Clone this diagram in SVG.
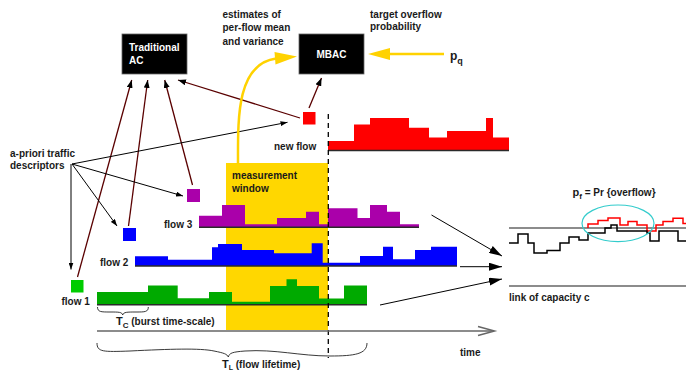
<svg xmlns="http://www.w3.org/2000/svg" width="686" height="371" viewBox="0 0 686 371">
<style>
.t{font-family:"Liberation Sans",Arial,Helvetica,sans-serif;font-weight:bold;font-size:10px;fill:#1a1a1a}
.w{fill:#fff}
.box{fill:#000;stroke:#666;stroke-width:0.8}
.dr{stroke:#5a0000;stroke-width:1.3;fill:none}
.bk{stroke:#000;stroke-width:1;fill:none}
.yl{stroke:#FFD200;stroke-width:2.5;fill:none}
.base{stroke:#2a2a2a;stroke-width:1.5}
.gray{stroke:#666;stroke-width:1.5;fill:none}
</style>
<defs>
<marker id="ah" viewBox="0 0 8 6" refX="8" refY="3" markerWidth="8" markerHeight="6" markerUnits="userSpaceOnUse" orient="auto"><path d="M0,0 L8,3 L0,6 Z" fill="#000"/></marker>
<marker id="sm" viewBox="0 0 7 5" refX="7" refY="2.5" markerWidth="7" markerHeight="5" markerUnits="userSpaceOnUse" orient="auto"><path d="M0,0 L7,2.5 L0,5 Z" fill="#000"/></marker>
<marker id="lg" viewBox="0 0 13 8" refX="13" refY="4" markerWidth="13" markerHeight="8" markerUnits="userSpaceOnUse" orient="auto"><path d="M0,0 L13,4 L0,8 Z" fill="#000"/></marker>
</defs>

<!-- measurement window -->
<g id="window">
<rect x="226" y="163" width="102" height="167" fill="#FFD700"/>
<text class="t" x="232" y="179">measurement</text>
<text class="t" x="232" y="192">window</text>
</g>

<!-- boxes -->
<g id="tradac">
<rect class="box" x="122" y="34" width="65" height="40"/>
<text class="t w" x="129" y="51">Traditional</text>
<text class="t w" x="129" y="64">AC</text>
</g>
<g id="mbac">
<rect class="box" x="299" y="34" width="65" height="40"/>
<text class="t w" x="331.5" y="58" text-anchor="middle">MBAC</text>
</g>

<g id="labels">
<text class="t" x="222.5" y="18">estimates of</text>
<text class="t" x="222.5" y="31">per-flow mean</text>
<text class="t" x="222.5" y="45">and variance</text>
<text class="t" x="370" y="18">target overflow</text>
<text class="t" x="370" y="30">probability</text>
<text class="t" x="450" y="60" style="font-size:12px">p<tspan dy="4" style="font-size:9px">q</tspan></text>
<text class="t" x="10" y="157">a-priori traffic</text>
<text class="t" x="10" y="169">descriptors</text>
<text class="t" x="274" y="150">new flow</text>
<text class="t" x="164" y="228">flow 3</text>
<text class="t" x="100" y="266">flow 2</text>
<text class="t" x="61.5" y="304.5">flow 1</text>
<text class="t" x="116" y="325" style="font-size:11px">T<tspan dy="3" style="font-size:8px">C</tspan><tspan dy="-3" style="font-size:10px"> (burst time-scale)</tspan></text>
<text class="t" x="222" y="367.5" style="font-size:11px">T<tspan dy="2" style="font-size:7px">L</tspan><tspan dy="-2" style="font-size:10px"> (flow lifetime)</tspan></text>
<text class="t" x="460" y="356">time</text>
<text class="t" x="509" y="301">link of capacity c</text>
<text class="t" x="572.5" y="196" style="font-size:11px">p<tspan dy="3" style="font-size:8px">f</tspan><tspan dy="-3" style="font-size:10px"> = Pr {overflow}</tspan></text>
</g>

<!-- flows -->
<g id="flow-new">
<path d="M328,150.5 V141 H354 V124.5 H370 V118 H409 V127.7 H429 V137.5 H447 V131 H486 V118 H493 V137.5 H509 V150.5 Z" fill="#FF0000"/>
<line class="base" x1="328" y1="150.5" x2="509" y2="150.5"/>
<rect x="303" y="112" width="12.5" height="12.5" fill="#FF0000"/>
</g>
<g id="flow3">
<path d="M199,227 V215.7 H222 V205 H245 V224.3 H277 V218 H306 V211.7 H319 V224.3 H328 V208.3 H357.5 V218 H370 V205 H387 V211.7 H400 V224.3 H419 V227 Z" fill="#AA00AA"/>
<line class="base" x1="199" y1="227.3" x2="419" y2="227.3"/>
<rect x="187" y="189" width="13" height="13" fill="#AA00AA"/>
</g>
<g id="flow2">
<path d="M135,266 V256.3 H168 V259.7 H212 V247.3 H218 V244 H242 V250 H274 V253.3 H311.7 V243.3 H322.7 V262.7 H360 V256 H383 V246.7 H393 V259.3 H415 V250 H431 V246.7 H457 V266 Z" fill="#0000FF"/>
<line class="base" x1="135" y1="266" x2="457" y2="266"/>
<rect x="123" y="228" width="13" height="13" fill="#0000FF"/>
</g>
<g id="flow1">
<path d="M97,304.7 V292 H148 V285.5 H177.7 V298.3 H209 V292 H232 V301.7 H270 V286 H286.5 V279.2 H297 V286 H319 V298.5 H344 V285.5 H367 V304.7 Z" fill="#00AA00"/>
<line class="base" x1="97" y1="304.7" x2="367" y2="304.7"/>
<rect x="71" y="280" width="12.5" height="12.5" fill="#00CC00"/>
</g>

<!-- dashed admission line -->
<line x1="328.3" y1="114" x2="328.3" y2="358" stroke="#000" stroke-width="1.3" stroke-dasharray="5,4"/>

<!-- time axis and braces -->
<g id="axis">
<line class="gray" x1="97" y1="331" x2="494" y2="331"/>
<path class="gray" d="M478,326.5 L494.5,331 L478,335.5"/>
<path d="M97.5,307 C97.5,312 101,312 110,312 C119,312 122,312 122.7,315 C123.5,312 127,312 136,312 C145,312 148.3,312 148.3,307" fill="none" stroke="#222" stroke-width="0.9"/>
<path d="M97,343 C97,352 103,352 130,351 C170,349 200,348 214,351 C224,353 227,354 228.3,357 C229.5,353 232,352 245,351 C275,349 300,356 330,356 C355,356 367,354 367,343" fill="none" stroke="#222" stroke-width="0.9"/>
</g>

<!-- link panel -->
<g id="link">
<line class="gray" x1="509" y1="228" x2="686" y2="228"/>
<line class="gray" x1="509" y1="286" x2="686" y2="286"/>
<path d="M588,228 V224 H598 V220.5 H608 V218 H620 V225 H628 V221.5 H637 V225 H647 V231 H656 V225 H663 V221.5 H673 V218.3 H683 V223.5 H686" fill="none" stroke="#FF0000" stroke-width="1.5"/>
<path d="M509,243 H518 V234 H528 V243 H534 V253 H547 V250.5 H560 V243 H569 V237 H579 V240 H588 V233 H605 V228 H611 V225 H617 V231 H647 V233 H650 V241 H659 V231 H678 V241 H686" fill="none" stroke="#000" stroke-width="1.5"/>
<ellipse cx="618" cy="223.3" rx="36" ry="18.3" fill="none" stroke="#33CCCC" stroke-width="1.2"/>
</g>

<!-- connectors -->
<g id="connectors">
<line class="dr" x1="309" y1="108" x2="321.5" y2="78" marker-end="url(#ah)"/>
<line class="dr" x1="300" y1="118" x2="178" y2="80" marker-end="url(#ah)"/>
<line class="dr" x1="77.5" y1="277" x2="131.7" y2="80" marker-end="url(#ah)"/>
<line class="dr" x1="128.5" y1="226" x2="147.7" y2="80" marker-end="url(#ah)"/>
<line class="dr" x1="192.5" y1="185" x2="164.7" y2="80" marker-end="url(#ah)"/>
<line class="bk" x1="72" y1="164" x2="287.5" y2="122.3" marker-end="url(#sm)"/>
<line class="bk" x1="72" y1="164" x2="183" y2="196" marker-end="url(#sm)"/>
<line class="bk" x1="72" y1="164" x2="117" y2="226" marker-end="url(#sm)"/>
<line class="bk" x1="71" y1="164" x2="71" y2="269.5" marker-end="url(#sm)"/>
<line class="bk" x1="431.5" y1="215" x2="502" y2="256" marker-end="url(#lg)"/>
<line class="bk" x1="460" y1="266.7" x2="502" y2="266.7" marker-end="url(#lg)"/>
<line class="bk" x1="380" y1="305" x2="502" y2="279" marker-end="url(#lg)"/>
<line class="yl" x1="444" y1="54" x2="388" y2="54"/>
<polygon points="368,54 390,48 390,60" fill="#FFD200"/>
<path class="yl" d="M238,164 C238,120 236,64 276,58.5"/>
<polygon points="297,56.5 274.5,52 275.5,64.5" fill="#FFD200"/>
</g>
</svg>
